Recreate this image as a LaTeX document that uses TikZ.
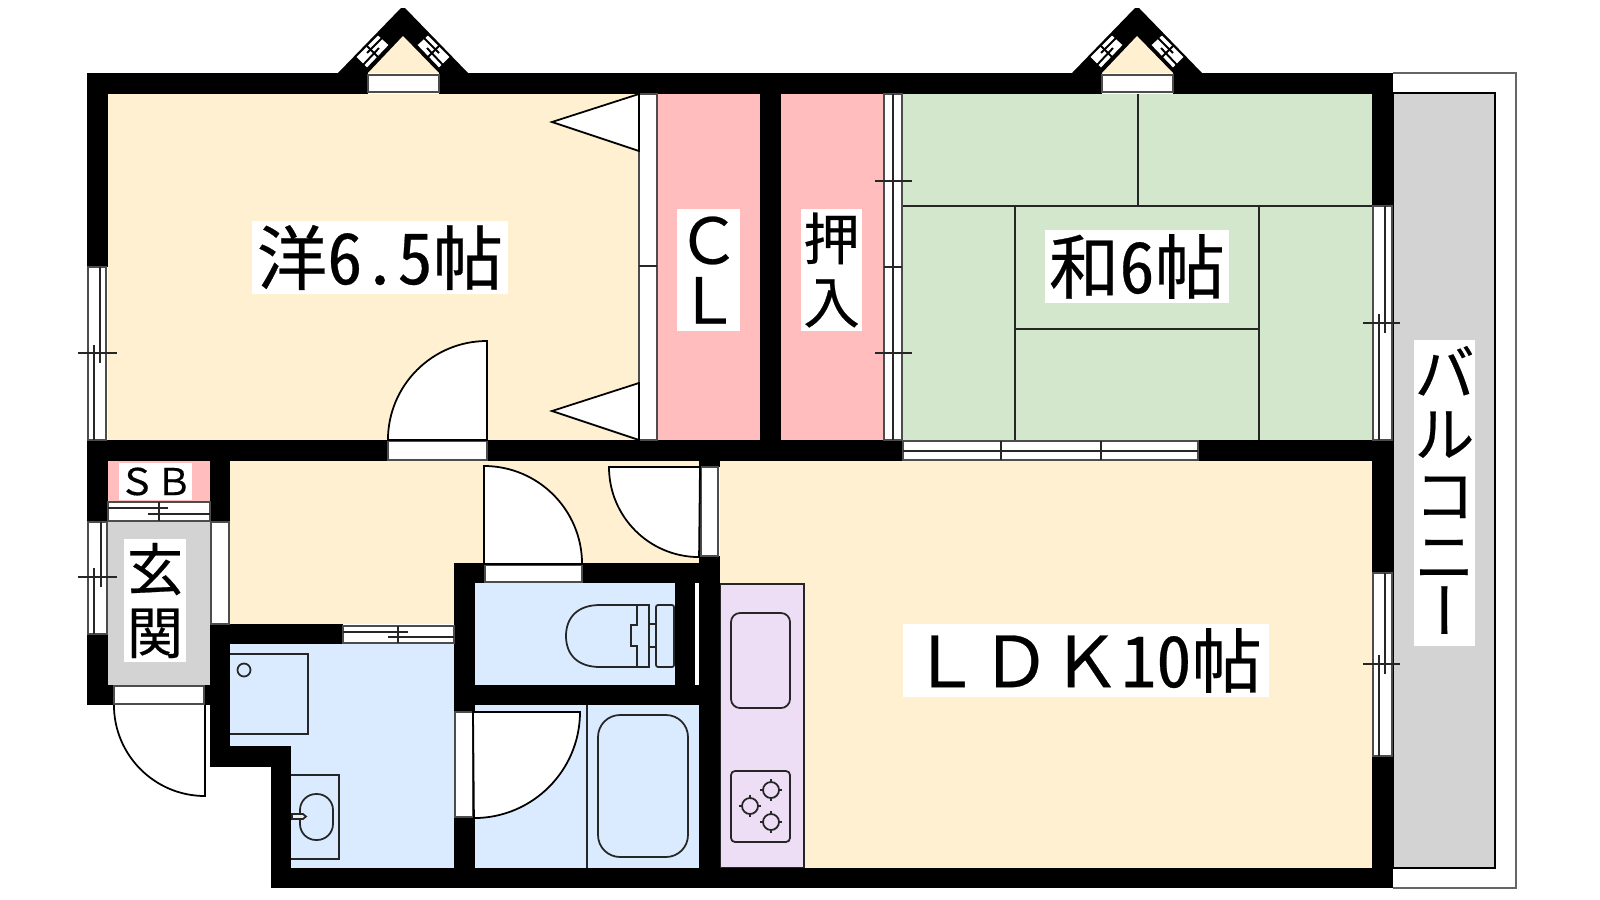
\documentclass[tikz,border=0pt]{standalone}
\usepackage{fontspec}
\setmainfont[RawFeature=+hwid,FakeBold=0.4]{Noto Sans CJK JP}
\newfontfamily\widefont[FakeBold=0.4]{Noto Sans CJK JP}

\definecolor{cream}{HTML}{FEF0D0}
\definecolor{bathblue}{HTML}{DAEBFF}
\definecolor{closetpink}{HTML}{FFBDBD}
\definecolor{tatami}{HTML}{D2E7CB}
\definecolor{kitchen}{HTML}{EDDDF5}
\definecolor{floorgrey}{HTML}{D3D3D3}

\tikzset{
    wall/.style={fill=black,draw=none},
    glass/.style={fill=white,draw=black!70,line width=0.5pt},
    sash/.style={draw=black!85,line width=0.45pt},
    leaf/.style={fill=white,draw=black,line width=0.5pt},
    fixture/.style={draw=black!85,line width=0.5pt},
    roomlabel/.style={fill=white,inner sep=0pt,font=\fontsize{20}{20}\selectfont},
    stacklabel/.style={fill=white,inner sep=0pt,align=center,font=\fontsize{16}{18}\selectfont},
    smalllabel/.style={fill=white,inner sep=0pt,font=\widefont\fontsize{10.5}{11}\selectfont}
}

\begin{document}
\begin{tikzpicture}[x=0.01cm,y=-0.01cm]
            \useasboundingbox (0,0) rectangle (1600,900);

            % balcony
            \draw[line width=0.5pt,draw=black!60,fill=white] (1393,73) -- (1516,73) -- (1516,888) -- (1393,888);
            \draw[line width=0.6pt,fill=floorgrey] (1393,93) -- (1495,93) -- (1495,868) -- (1393,868) -- cycle;

            % floors
            \fill[cream] (108,94) rectangle (639,440);
            \fill[cream] (230,461) rectangle (699,563);
            \fill[cream] (230,461) rectangle (454,624);
            \fill[cream] (720,461) rectangle (1372,868);
            \fill[closetpink] (657,94) rectangle (760,440);
            \fill[closetpink] (781,94) rectangle (884,440);
            \fill[closetpink] (108,461) rectangle (210,502);
            \fill[tatami] (902,94) rectangle (1372,440);
            \fill[floorgrey] (108,522) rectangle (210,685);
            \fill[bathblue] (230,644) rectangle (454,746);
            \fill[bathblue] (291,746) rectangle (454,868);
            \fill[bathblue] (475,583) rectangle (675,685);
            \fill[bathblue] (475,705) rectangle (699,868);
            \draw[fixture,fill=kitchen] (720,584) -- (804,584) -- (804,868) -- (720,868) -- cycle;

            % tatami lines
            \draw[fixture] (902,206) -- (1372,206);
            \draw[fixture] (1138,94) -- (1138,206);
            \draw[fixture] (1015,206) -- (1015,440);
            \draw[fixture] (1259,206) -- (1259,440);
            \draw[fixture] (1015,329) -- (1259,329);

            % walls
            \fill[wall] (87,73) rectangle (1393,94);
            \fill[wall] (87,73) rectangle (108,267);
            \fill[wall] (87,440) rectangle (903,461);
            \fill[wall] (1198,440) rectangle (1393,461);
            \fill[wall] (87,440) rectangle (108,522);
            \fill[wall] (210,440) rectangle (230,522);
            \fill[wall] (87,634) rectangle (108,705);
            \fill[wall] (87,685) rectangle (114,705);
            \fill[wall] (204,685) rectangle (230,705);
            \fill[wall] (210,624) rectangle (230,767);
            \fill[wall] (210,624) rectangle (343,644);
            \fill[wall] (210,746) rectangle (291,767);
            \fill[wall] (271,746) rectangle (291,888);
            \fill[wall] (271,868) rectangle (1393,888);
            \fill[wall] (454,563) rectangle (475,712);
            \fill[wall] (454,817) rectangle (475,868);
            \fill[wall] (454,563) rectangle (720,583);
            \fill[wall] (454,685) rectangle (720,705);
            \fill[wall] (675,583) rectangle (695,685);
            \fill[wall] (699,440) rectangle (720,467);
            \fill[wall] (699,556) rectangle (720,868);
            \fill[wall] (760,94) rectangle (781,461);
            \fill[wall] (1372,73) rectangle (1393,206);
            \fill[wall] (1372,440) rectangle (1393,573);
            \fill[wall] (1372,756) rectangle (1393,888);

            % bay windows
            \foreach \bx in {403,1137} {
                \begin{scope}[shift={(\bx,0)}]
                    \fill[wall] (-65,73) -- (-2,8) -- (2,8) -- (65,73) -- cycle;
                    \fill[cream] (-35,73) -- (0,36) -- (36,73) -- cycle;
                    \fill[white] (-35,73) rectangle (36,94);
                    \draw[glass] (-35,75) rectangle (36,92);
                    \foreach \sx in {-1,1} {
                        \begin{scope}[xscale=\sx]
                            \fill[white] (-25,34) -- (-13,45) -- (-36,69) -- (-48,57) -- cycle;
                            \draw[line width=0.55pt] (-25,34) -- (-13,45) -- (-36,69) -- (-48,57) -- cycle;
                            \draw[line width=0.55pt] (-21,38) -- (-36,53);
                            \draw[line width=0.55pt] (-24,48) -- (-40,65);
                            \draw[line width=0.55pt] (-36,46) -- (-25,57);
                        \end{scope}
                    }
                \end{scope}
            }

            % windows
            \draw[glass] (88,267) rectangle (106,440);
            \draw[sash] (100,267) -- (100,363);
            \draw[sash] (94,345) -- (94,440);
            \draw[sash] (78,353) -- (117,353);

            \draw[glass] (88,522) rectangle (107,634);
            \draw[sash] (101,522) -- (101,587);
            \draw[sash] (94,568) -- (94,634);
            \draw[sash] (78,577) -- (117,577);

            \draw[glass] (108,502) rectangle (210,521);
            \draw[sash] (108,508) -- (168,508);
            \draw[sash] (148,514) -- (210,514);
            \draw[sash] (159,502) -- (159,521);

            \draw[glass] (211,522) rectangle (229,624);

            \draw[glass] (343,626) rectangle (454,643);
            \draw[sash] (343,632) -- (408,632);
            \draw[sash] (388,637) -- (454,637);
            \draw[sash] (398,626) -- (398,643);

            \draw[glass] (884,94) rectangle (902,440);
            \draw[sash] (893,94) -- (893,440);
            \draw[sash] (875,181) -- (912,181);
            \draw[sash] (884,267) -- (902,267);
            \draw[sash] (875,353) -- (912,353);

            \draw[glass] (903,441) rectangle (1198,460);
            \draw[sash] (903,451) -- (1198,451);
            \draw[sash] (1001,441) -- (1001,460);
            \draw[sash] (1101,441) -- (1101,460);

            \draw[glass] (1373,206) rectangle (1392,440);
            \draw[sash] (1385,206) -- (1385,333);
            \draw[sash] (1379,314) -- (1379,440);
            \draw[sash] (1363,323) -- (1400,323);

            \draw[glass] (1373,573) rectangle (1392,756);
            \draw[sash] (1385,573) -- (1385,674);
            \draw[sash] (1379,655) -- (1379,756);
            \draw[sash] (1363,664) -- (1400,664);

            % closet doors
            \draw[glass] (639,94) rectangle (657,440);
            \draw[sash] (639,266) -- (657,266);
            \draw[leaf] (639,94) -- (552,122) -- (639,151) -- cycle;
            \draw[leaf] (639,383) -- (552,411) -- (639,440) -- cycle;

            % doors
            \draw[glass] (388,441) rectangle (487,460);
            \draw[leaf] (487,440) -- (487,341) arc (90:180:0.99cm) -- cycle;

            \draw[glass] (485,565) rectangle (582,582);
            \draw[leaf] (484,564) -- (484,466) arc (90:0:0.98cm) -- cycle;

            \draw[glass] (701,467) rectangle (718,556);
            \draw[leaf] (700,467) -- (609,467) arc (180:270:0.90cm) -- cycle;

            \draw[glass] (455,712) rectangle (473,817);
            \draw[leaf] (473,712) -- (580,712) arc (0:-90:1.06cm) -- cycle;

            \draw[glass] (114,686) rectangle (204,704);
            \draw[line width=0.5pt] (205,705) -- (205,796) arc (270:180:0.91cm);

            % washroom
            \draw[fixture] (230,654) -- (308,654) -- (308,734) -- (230,734);
            \draw[fixture] (244,670) circle [radius=0.065cm];
            \draw[fixture] (291,775) -- (339,775) -- (339,859) -- (291,859);
            \draw[fixture,rounded corners=0.16cm] (300,794) rectangle (333,840);
            \draw[fixture,fill=floorgrey!40] (292,814) -- (303,814) -- (306,816.5) -- (303,819) -- (292,819) -- cycle;

            % toilet
            \draw[fixture] (649,605) -- (600,605) .. controls (577,605) and (566,618) .. (566,636) .. controls (566,654) and (577,667) .. (600,667) -- (649,667) -- cycle;
            \draw[fixture] (637,605) -- (637,625) -- (631,625) -- (631,646) -- (637,646) -- (637,667);
            \draw[fixture] (649,624) rectangle (656,647);
            \draw[fixture,rounded corners=0.02cm] (656,605) rectangle (674,667);
            \draw[white,line width=1.1pt] (697,583) -- (697,685);

            % bath
            \draw[fixture] (587,705) -- (587,868);
            \draw[fixture,rounded corners=0.22cm] (598,715) rectangle (688,857);

            % kitchen
            \draw[fixture,rounded corners=0.09cm] (731,613) rectangle (790,708);
            \draw[fixture,rounded corners=0.04cm] (731,771) rectangle (790,842);
            \foreach \hx/\hy in {771/790,750/806,771/822} {
                \draw[fixture] (\hx,\hy) circle [radius=0.08cm];
                \draw[fixture] (\hx-11,\hy) -- (\hx-7,\hy);
                \draw[fixture] (\hx+7,\hy) -- (\hx+11,\hy);
                \draw[fixture] (\hx,\hy-11) -- (\hx,\hy-7);
                \draw[fixture] (\hx,\hy+7) -- (\hx,\hy+11);
            }

            % room labels
            \node [roomlabel,minimum width=2.56cm,minimum height=0.73cm] (yoshitsu) at (380,257.5) {洋6.5帖};
            \node [roomlabel,minimum width=1.84cm,minimum height=0.73cm] (washitsu) at (1137,266.5) {和6帖};
            \node [roomlabel,minimum width=3.66cm,minimum height=0.73cm] (ldk) at (1086,660.5) {{\widefont ＬＤＫ}10帖};
            \node [stacklabel,minimum width=0.61cm,minimum height=1.22cm,font=\widefont\fontsize{18}{17}\selectfont] (cl) at (708.5,270) {Ｃ\\Ｌ};
            \node [stacklabel,minimum width=0.61cm,minimum height=1.22cm] (oshiire) at (831.5,270) {押\\入};
            \node [stacklabel,minimum width=0.62cm,minimum height=1.23cm] (genkan) at (155,600.5) {玄\\関};
            \node [smalllabel,minimum width=0.73cm,minimum height=0.37cm] (sb) at (155.5,481.5) {ＳＢ};
            \node [stacklabel,minimum width=0.61cm,minimum height=3.06cm,font=\fontsize{17}{17.4}\selectfont] (balcony) at (1444.5,493) {バ\\ル\\コ\\ニ\\\hspace*{0.33em}\rotatebox{90}{ー}};

        \end{tikzpicture}
\end{document}
